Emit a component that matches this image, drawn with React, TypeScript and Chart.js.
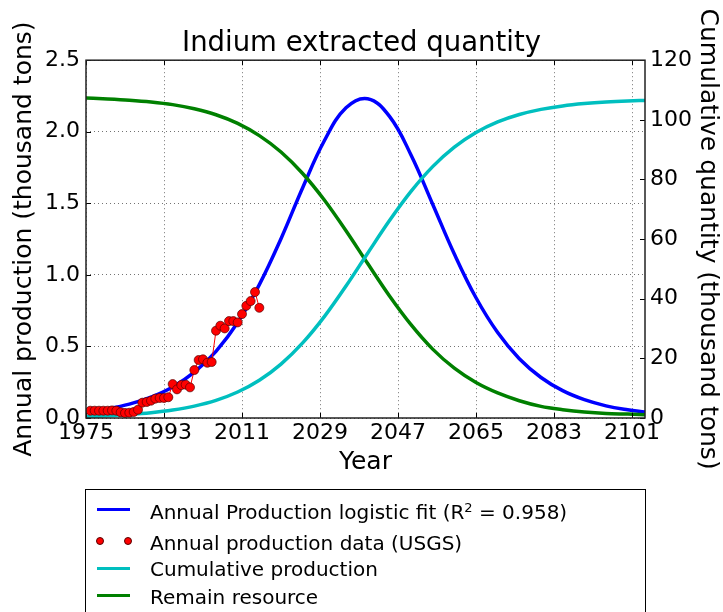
import React, { useEffect, useRef } from 'react';
import { Chart, registerables } from 'chart.js';

Chart.register(...registerables);

// ---- data ----
const fitYears = [1975, 1980, 1985, 1990, 1995, 2000, 2005, 2010, 2015, 2020, 2025, 2030, 2035, 2040, 2045, 2050, 2055, 2060, 2065, 2070, 2075, 2080, 2085, 2090, 2095, 2100, 2104];
const annualFit = [0.043, 0.065, 0.097, 0.146, 0.217, 0.32, 0.466, 0.667, 0.932, 1.253, 1.609, 1.937, 2.167, 2.231, 2.109, 1.838, 1.494, 1.146, 0.84, 0.597, 0.414, 0.283, 0.191, 0.128, 0.085, 0.057, 0.041];
const cumulative = [0.52, 0.78, 1.18, 1.77, 2.66, 3.98, 5.91, 8.71, 12.65, 18.07, 25.18, 34.0, 44.25, 55.27, 66.13, 75.99, 84.3, 90.83, 95.75, 99.3, 101.78, 103.5, 104.67, 105.44, 105.97, 106.32, 106.5];
const remaining = [107.3, 107.0, 106.6, 106.0, 105.1, 103.7, 101.7, 98.8, 94.7, 89.2, 82.0, 73.1, 62.8, 51.8, 41.0, 31.3, 23.1, 16.7, 11.9, 8.4, 5.8, 3.9, 2.8, 2.0, 1.5, 1.3, 1.1];

const dataYears = [1976, 1977, 1978, 1979, 1980, 1981, 1982, 1983, 1984, 1985, 1986, 1987, 1988, 1989, 1990, 1991, 1992, 1993, 1994, 1995, 1996, 1997, 1998, 1999, 2000, 2001, 2002, 2003, 2004, 2005, 2006, 2007, 2008, 2009, 2010, 2011, 2012, 2013, 2014, 2015];
const dataValues = [0.051, 0.051, 0.051, 0.051, 0.051, 0.053, 0.051, 0.04, 0.035, 0.037, 0.042, 0.058, 0.107, 0.112, 0.121, 0.135, 0.14, 0.14, 0.145, 0.237, 0.2, 0.23, 0.233, 0.214, 0.335, 0.405, 0.41, 0.386, 0.391, 0.61, 0.645, 0.626, 0.677, 0.677, 0.668, 0.726, 0.784, 0.817, 0.88, 0.77];

const xTicks = [1975, 1993, 2011, 2029, 2047, 2065, 2083, 2101];
const leftTicks = [0, 0.5, 1.0, 1.5, 2.0, 2.5];
const rightTicks = [0, 20, 40, 60, 80, 100, 120];

const seriesLabels = [
  'Annual Production logistic fit (R2 = 0.958)',
  'Annual production data (USGS)',
  'Cumulative production',
  'Remain resource',
];
const seriesColors = ['#0000ff', '#ff0000', '#00bfbf', '#008000'];

const FONT = "'DejaVu Sans', sans-serif";

const framePlugin = {
  id: 'frameTicks',
  afterDatasetsDraw(chart: any) {
    const { ctx, chartArea: a, scales } = chart;
    ctx.save();
    ctx.strokeStyle = '#000';
    ctx.lineWidth = 1;
    const L = 5;
    ctx.beginPath();
    for (const v of xTicks) {
      const px = Math.round(scales.x.getPixelForValue(v)) + 0.5;
      ctx.moveTo(px, a.bottom); ctx.lineTo(px, a.bottom - L);
      ctx.moveTo(px, a.top); ctx.lineTo(px, a.top + L);
    }
    for (const v of leftTicks) {
      const py = Math.round(scales.y.getPixelForValue(v)) + 0.5;
      ctx.moveTo(a.left, py); ctx.lineTo(a.left + L, py);
    }
    for (const v of rightTicks) {
      const py = Math.round(scales.y1.getPixelForValue(v)) + 0.5;
      ctx.moveTo(a.right, py); ctx.lineTo(a.right - L, py);
    }
    ctx.stroke();
    ctx.strokeStyle = '#222';
    ctx.lineWidth = 1.5;
    ctx.strokeRect(a.left, a.top, a.right - a.left, a.bottom - a.top);
    ctx.restore();
  },
};

export default function App() {
  const ref = useRef<HTMLCanvasElement>(null);

  useEffect(() => {
    document.body.style.margin = '0';
    const canvas = ref.current;
    if (!canvas) return;
    const gridCommon = { color: 'rgba(0,0,0,0.55)', lineWidth: 1, drawTicks: false };
    const chart = new Chart(canvas, {
      type: 'line',
      data: {
        datasets: [
          {
            label: seriesLabels[0],
            data: fitYears.map((x, i) => ({ x, y: annualFit[i] })),
            yAxisID: 'y',
            borderColor: seriesColors[0],
            borderWidth: 3.5,
            pointRadius: 0,
            tension: 0.4,
            order: 3,
          },
          {
            label: seriesLabels[1],
            data: dataYears.map((x, i) => ({ x, y: dataValues[i] })),
            yAxisID: 'y',
            borderColor: seriesColors[1],
            borderWidth: 1,
            pointRadius: 4.5,
            pointBackgroundColor: seriesColors[1],
            pointBorderColor: '#500',
            pointBorderWidth: 0.7,
            tension: 0,
            order: 0,
          },
          {
            label: seriesLabels[2],
            data: fitYears.map((x, i) => ({ x, y: cumulative[i] })),
            yAxisID: 'y1',
            borderColor: seriesColors[2],
            borderWidth: 3.5,
            pointRadius: 0,
            cubicInterpolationMode: 'monotone',
            order: 2,
          },
          {
            label: seriesLabels[3],
            data: fitYears.map((x, i) => ({ x, y: remaining[i] })),
            yAxisID: 'y1',
            borderColor: seriesColors[3],
            borderWidth: 3.5,
            pointRadius: 0,
            cubicInterpolationMode: 'monotone',
            order: 2,
          },
        ],
      },
      options: {
        animation: false,
        responsive: false,
        devicePixelRatio: 1,
        layout: { padding: { left: 0, right: 0, top: 0, bottom: 134 } },
        plugins: {
          legend: { display: false },
          tooltip: { enabled: false },
          title: {
            display: true,
            text: 'Indium extracted quantity',
            color: '#000',
            font: { family: FONT, size: 27.5, weight: 'normal' },
            padding: { top: 27.2, bottom: 0 },
          },
        },
        scales: {
          x: {
            type: 'linear',
            min: 1975,
            max: 2104,
            afterBuildTicks: (s: any) => { s.ticks = xTicks.map((v) => ({ value: v })); },
            afterFit: (s: any) => { s.height = 60; },
            ticks: {
              color: '#000',
              font: { family: FONT, size: 22 },
              padding: 2,
              maxRotation: 0,
              autoSkip: false,
              callback: (v: any) => String(v),
            },
            grid: gridCommon,
            border: { display: false, dash: [1, 3] },
            title: {
              display: true,
              text: 'Year',
              color: '#000',
              font: { family: FONT, size: 25 },
              padding: { top: 0, bottom: 1 },
            },
          },
          y: {
            type: 'linear',
            position: 'left',
            min: 0,
            max: 2.5,
            afterBuildTicks: (s: any) => { s.ticks = leftTicks.map((v) => ({ value: v })); },
            afterFit: (s: any) => { s.width = 86; },
            ticks: {
              color: '#000',
              font: { family: FONT, size: 22 },
              padding: 6,
              callback: (v: any) => Number(v).toFixed(1),
            },
            grid: gridCommon,
            border: { display: false, dash: [1, 3] },
            title: {
              display: true,
              text: 'Annual production (thousand tons)',
              color: '#000',
              font: { family: FONT, size: 25 },
              padding: { top: 9.6, bottom: 0 },
            },
          },
          y1: {
            type: 'linear',
            position: 'right',
            min: 0,
            max: 120,
            afterBuildTicks: (s: any) => { s.ticks = rightTicks.map((v) => ({ value: v })); },
            afterFit: (s: any) => { s.width = 78; },
            ticks: {
              color: '#000',
              font: { family: FONT, size: 22 },
              padding: 5,
              callback: (v: any) => String(v),
            },
            grid: { display: false, drawTicks: false },
            border: { display: false },
            title: {
              display: true,
              text: 'Cumulative quantity (thousand tons)',
              color: '#000',
              font: { family: FONT, size: 25 },
              padding: { top: 0.5, bottom: 0 },
            },
          },
        },
      },
      plugins: [framePlugin],
    } as any);
    return () => chart.destroy();
  }, []);

  const rowStyle = (top: number): React.CSSProperties => ({
    position: 'absolute',
    left: 150,
    top,
    height: 24,
    lineHeight: '24px',
    fontSize: 20,
    fontFamily: FONT,
    color: '#000',
    whiteSpace: 'nowrap',
  });
  const lineSample = (top: number, color: string): React.CSSProperties => ({
    position: 'absolute',
    left: 97,
    top: top - 1.75,
    width: 33,
    height: 3.5,
    background: color,
  });
  const dot = (left: number): React.CSSProperties => ({
    position: 'absolute',
    left: left - 4,
    top: 541 - 4,
    width: 8,
    height: 8,
    borderRadius: '50%',
    background: seriesColors[1],
    boxSizing: 'border-box',
    border: '0.7px solid #500',
  });

  return (
    <div style={{ position: 'relative', width: 723, height: 612, overflow: 'hidden', background: '#fff' }}>
      <canvas ref={ref} width={723} height={612} style={{ display: 'block', width: 723, height: 612 }} />
      <div
        style={{
          position: 'absolute',
          left: 85,
          top: 489,
          width: 561,
          height: 140,
          border: '1px solid #000',
          boxSizing: 'border-box',
        }}
      />
      <div style={lineSample(509.3, seriesColors[0])} />
      <div style={rowStyle(500.4)}>
        Annual Production logistic fit (R<span style={{ fontSize: 13, position: 'relative', top: -7 }}>2</span> = 0.958)
      </div>
      <div style={dot(100)} />
      <div style={dot(128.3)} />
      <div style={rowStyle(531)}>{seriesLabels[1]}</div>
      <div style={lineSample(568.3, seriesColors[2])} />
      <div style={rowStyle(557.4)}>{seriesLabels[2]}</div>
      <div style={lineSample(595.7, seriesColors[3])} />
      <div style={rowStyle(585.4)}>{seriesLabels[3]}</div>
    </div>
  );
}
